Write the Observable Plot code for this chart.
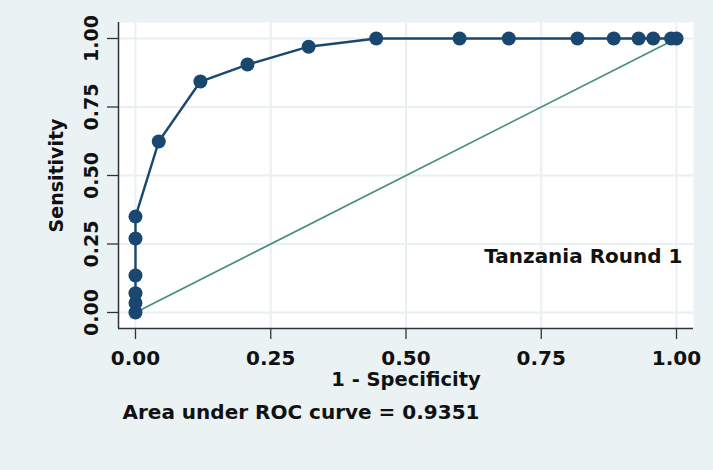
<!DOCTYPE html>
<html>
<head>
<meta charset="utf-8">
<script src="https://cdn.jsdelivr.net/npm/d3@7"></script>
<script src="https://cdn.jsdelivr.net/npm/@observablehq/plot@0.6"></script>
<style>
  html, body { margin: 0; padding: 0; background: #eaf2f3; }
  #chart { width: 713px; height: 470px; }
</style>
</head>
<body>
<div id="chart"></div>
<script>
// ROC points (1 - specificity, sensitivity)
const fpr = [0, 0, 0, 0, 0, 0, 0.043, 0.12, 0.207, 0.32, 0.445, 0.599, 0.69, 0.817, 0.884, 0.93, 0.957, 0.99, 1.0];
const tpr = [0, 0.035, 0.07, 0.135, 0.27, 0.35, 0.624, 0.843, 0.905, 0.97, 1, 1, 1, 1, 1, 1, 1, 1, 1];
// reference diagonal
const diagX = [0, 1];
const diagY = [0, 1];
// ticks
const xTicks = [0, 0.25, 0.5, 0.75, 1];
const yTicks = [0, 0.25, 0.5, 0.75, 1];
const xTickLabels = ["0.00", "0.25", "0.50", "0.75", "1.00"];
const yTickLabels = ["0.00", "0.25", "0.50", "0.75", "1.00"];
const xTitle = "1 - Specificity";
const yTitle = "Sensitivity";
const note = "Tanzania Round 1";
const caption = "Area under ROC curve = 0.9351";

const roc = fpr.map((x, i) => ({x, y: tpr[i]}));
const diag = diagX.map((x, i) => ({x, y: diagY[i]}));
const xDomain = [-0.0314, 1.0314];
const yDomain = [-0.0584, 1.0584];

const navy = "#1a476f";
const teal = "#468d7e";
const font = "DejaVu Sans";

const chart = Plot.plot({
  width: 713,
  height: 470,
  marginLeft: 118,
  marginRight: 20,
  marginTop: 22,
  marginBottom: 142,
  style: {background: "transparent", fontFamily: font},
  x: {domain: xDomain},
  y: {domain: yDomain},
  marks: [
    Plot.frame({fill: "white", stroke: null}),
    Plot.gridX(xTicks, {stroke: "#e8f0f2", strokeOpacity: 1, strokeWidth: 2}),
    Plot.gridY(yTicks, {stroke: "#e8f0f2", strokeOpacity: 1, strokeWidth: 2}),
    Plot.line(diag, {x: "x", y: "y", stroke: teal, strokeWidth: 1.7}),
    Plot.line(roc, {x: "x", y: "y", stroke: navy, strokeWidth: 2.4}),
    Plot.dot(roc, {x: "x", y: "y", r: 7, fill: navy, stroke: null}),
    Plot.ruleX([xDomain[0]], {stroke: "#333", strokeWidth: 1.5}),
    Plot.ruleY([yDomain[0]], {stroke: "#333", strokeWidth: 1.5}),
    Plot.axisX({ticks: xTicks, tickSize: 11, tickFormat: () => "", stroke: "#333", strokeWidth: 1.3, label: null}),
    Plot.axisY({ticks: yTicks, tickSize: 11, tickFormat: () => "", stroke: "#333", strokeWidth: 1.3, label: null}),
    Plot.text(xTicks, {x: d => d, text: (d, i) => xTickLabels[i], frameAnchor: "bottom", dy: 36, lineAnchor: "bottom",
      textAnchor: "middle", fontSize: 20, fontWeight: "bold", fill: "#111"}),
    Plot.text(yTicks, {y: d => d, text: (d, i) => yTickLabels[i], frameAnchor: "left", dx: -21, rotate: -90, lineAnchor: "bottom",
      textAnchor: "middle", fontSize: 19, fontWeight: "bold", fill: "#111"}),
    Plot.text([xTitle], {x: 0.5, text: d => d, frameAnchor: "bottom", dy: 57, lineAnchor: "bottom",
      textAnchor: "middle", fontSize: 19.5, fontWeight: "bold", fill: "#111"}),
    Plot.text([yTitle], {y: 0.5, text: d => d, frameAnchor: "left", dx: -56, rotate: -90, lineAnchor: "bottom",
      textAnchor: "middle", fontSize: 19, fontWeight: "bold", fill: "#111"}),
    Plot.text([note], {text: d => d, frameAnchor: "top-right", dx: -11, dy: 240, textAnchor: "end", lineAnchor: "bottom",
      fontSize: 20, fontWeight: "bold", fill: "#111"}),
    Plot.text([caption], {text: d => d, frameAnchor: "bottom-left", dx: 4, dy: 90, textAnchor: "start", lineAnchor: "bottom",
      fontSize: 20, fontWeight: "bold", fill: "#111"})
  ]
});
document.getElementById("chart").appendChild(chart);
</script>
</body>
</html>
